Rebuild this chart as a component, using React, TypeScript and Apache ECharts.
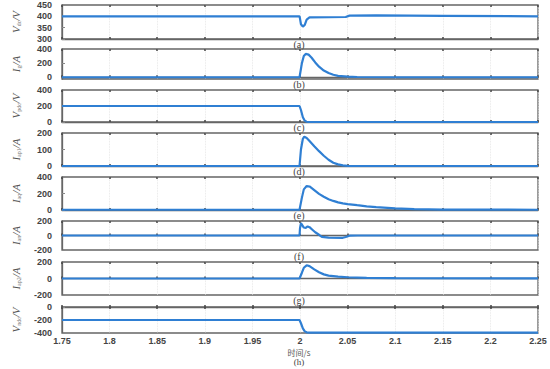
import React, { useEffect, useRef } from "react";
import * as echarts from "echarts";

const xTicks = [1.75, 1.8, 1.85, 1.9, 1.95, 2, 2.05, 2.1, 2.15, 2.2, 2.25];
const panelLetters = ["(a)", "(b)", "(c)", "(d)", "(e)", "(f)", "(g)"];
const xTitle = "时间/s";
const lastLetter = "(h)";

const vdc: [number, number][] = [
  [1.75, 400], [1.9995, 400], [2.0, 390], [2.001, 365], [2.003, 355], [2.005, 362],
  [2.007, 385], [2.01, 395], [2.03, 396], [2.048, 397], [2.052, 403], [2.08, 404],
  [2.15, 402], [2.25, 400],
];
const ig: [number, number][] = [
  [1.75, 0], [1.9995, 0], [2.002, 200], [2.004, 300], [2.006, 330], [2.009, 320],
  [2.012, 280], [2.016, 210], [2.02, 150], [2.025, 95], [2.03, 60], [2.035, 35],
  [2.04, 20], [2.05, 8], [2.06, 3], [2.1, 0], [2.25, 0],
];
const vpdc: [number, number][] = [
  [1.75, 200], [1.9995, 200], [2.001, 150], [2.003, 60], [2.005, 15], [2.007, 3],
  [2.01, 0], [2.25, 0],
];
const iap1: [number, number][] = [
  [1.75, 0], [1.9995, 0], [2.001, 100], [2.003, 165], [2.0045, 178], [2.007, 170],
  [2.01, 152], [2.015, 120], [2.02, 90], [2.025, 62], [2.03, 38], [2.035, 20],
  [2.04, 10], [2.045, 4], [2.05, 1], [2.1, 0], [2.25, 0],
];
const iaq: [number, number][] = [
  [1.75, 3], [1.9995, 3], [2.002, 150], [2.004, 250], [2.007, 290], [2.01, 285],
  [2.015, 240], [2.02, 195], [2.025, 160], [2.03, 130], [2.035, 110], [2.04, 92],
  [2.045, 80], [2.05, 72], [2.06, 58], [2.07, 45], [2.08, 35], [2.1, 20],
  [2.12, 10], [2.15, 5], [2.25, 3],
];
const ian: [number, number][] = [
  [1.75, 0], [1.9995, 0], [2.0, 100], [2.001, 170], [2.002, 150], [2.004, 110],
  [2.006, 105], [2.008, 125], [2.01, 115], [2.013, 80], [2.016, 45], [2.02, 10],
  [2.023, -20], [2.03, -30], [2.045, -32], [2.048, -20], [2.052, -3], [2.06, 0],
  [2.25, 0],
];
const iap2: [number, number][] = [
  [1.75, 0], [1.9995, 0], [2.002, 70], [2.004, 130], [2.007, 160], [2.01, 150],
  [2.015, 110], [2.02, 75], [2.025, 50], [2.03, 35], [2.04, 22], [2.05, 15],
  [2.07, 8], [2.1, 4], [2.25, 2],
];
const vndc: [number, number][] = [
  [1.75, -200], [1.9995, -200], [2.001, -250], [2.003, -330], [2.005, -375],
  [2.007, -390], [2.01, -395], [2.25, -395],
];

const seriesData = [vdc, ig, vpdc, iap1, iaq, ian, iap2, vndc];
const yMins = [300, -25, 0, 0, 0, -200, -200, -400];
const yMaxs = [450, 400, 400, 200, 400, 200, 200, 0];
const yLabels = [
  [300, 350, 400, 450],
  [0, 200, 400],
  [0, 200, 400],
  [0, 100, 200],
  [0, 200, 400],
  [-200, 0, 200],
  [-200, 0, 200],
  [-400, -200, 0],
];
const yNames = [
  ["V", "dc", "V"],
  ["I", "g", "A"],
  ["V", "pdc", "V"],
  ["I", "ap1", "A"],
  ["I", "aq", "A"],
  ["I", "an", "A"],
  ["I", "ap2", "A"],
  ["V", "ndc", "V"],
];

const tops = [5, 49, 90, 133, 177, 221, 262, 307];
const heights = [34, 30, 32, 33, 33, 29, 33, 26];
const LEFT = 62;
const RIGHT = 12;

export default function App() {
  const ref = useRef<HTMLDivElement>(null);
  useEffect(() => {
    if (!ref.current) return;
    const chart = echarts.init(ref.current, undefined, { renderer: "svg" });
    const n = seriesData.length;
    const grid: any[] = [];
    const xAxis: any[] = [];
    const yAxis: any[] = [];
    const series: any[] = [];
    const labelFont = {
      color: "#444",
      fontSize: 9,
      fontWeight: "bold",
      fontFamily: "Liberation Sans, Arial, sans-serif",
    };
    for (let i = 0; i < n; i++) {
      grid.push({
        left: LEFT,
        right: RIGHT,
        top: tops[i],
        height: heights[i],
        show: true,
        borderColor: "#666",
        borderWidth: 1.3,
        backgroundColor: "#fff",
      });
      const isLast = i === n - 1;
      xAxis.push({
        type: "value",
        gridIndex: i,
        min: 1.75,
        max: 2.25,
        interval: 0.05,
        position: "bottom",
        axisLine: { show: true, lineStyle: { color: "#666", width: 1.3 } },
        axisTick: { show: true, inside: true, length: 2, lineStyle: { color: "#444", width: 1.5 } },
        splitLine: { show: true, lineStyle: { color: "#e2e2e2", width: 0.8, type: "dotted" } },
        axisLabel: {
          show: isLast,
          ...labelFont,
          margin: 3,
          formatter: (v: number) => String(+v.toFixed(2)),
        },
      });
      xAxis.push({
        type: "value",
        gridIndex: i,
        min: 1.75,
        max: 2.25,
        interval: 0.05,
        position: "top",
        axisLine: { show: false },
        axisTick: { show: true, inside: true, length: 2, lineStyle: { color: "#444", width: 1.5 } },
        splitLine: { show: false },
        axisLabel: { show: false },
      });
      const nm = yNames[i];
      yAxis.push({
        type: "value",
        gridIndex: i,
        min: yMins[i],
        max: yMaxs[i],
        axisLine: { show: true, lineStyle: { color: "#666", width: 1.3 } },
        axisTick: {
          show: true,
          inside: true,
          length: 3,
          customValues: yLabels[i],
          lineStyle: { color: "#888" },
        },
        splitLine: { show: false },
        axisLabel: { ...labelFont, margin: 10, customValues: yLabels[i] },
        name: `{m|${nm[0]}}{s|${nm[1]}}{m|/${nm[2]}}`,
        nameLocation: "middle",
        nameGap: 40,
        nameRotate: 90,
        nameTextStyle: {
          rich: {
            m: { fontFamily: "Liberation Serif, serif", fontStyle: "italic", fontSize: 11, color: "#555" },
            s: { fontFamily: "Liberation Serif, serif", fontSize: 6, color: "#777", verticalAlign: "bottom", padding: [6, 0, 0, 0] },
          },
        },
      });
      series.push({
        type: "line",
        xAxisIndex: i * 2,
        yAxisIndex: i,
        data: seriesData[i],
        showSymbol: false,
        lineStyle: { color: "#2f7fd3", width: 2.2 },
        z: 3,
      });
    }
    const graphic: any[] = [];
    const letterY = [44, 84, 127, 171, 215, 256, 300];
    const xCenter = 299;
    panelLetters.forEach((t, k) => {
      graphic.push({
        type: "text",
        x: xCenter,
        y: letterY[k],
        style: {
          text: t,
          fontFamily: "Liberation Serif, serif",
          fontSize: 10,
          fill: "#444",
          align: "center",
          verticalAlign: "middle",
        },
      });
    });
    graphic.push({
      type: "text",
      x: xCenter,
      y: 352,
      style: {
        text: xTitle,
        fontFamily: "Noto Sans CJK SC, serif",
        fontSize: 8,
        fill: "#555",
        align: "center",
        verticalAlign: "middle",
      },
    });
    graphic.push({
      type: "text",
      x: xCenter,
      y: 362,
      style: {
        text: lastLetter,
        fontFamily: "Liberation Serif, serif",
        fontSize: 9,
        fill: "#444",
        align: "center",
        verticalAlign: "middle",
      },
    });

    chart.setOption({
      animation: false,
      backgroundColor: "#fff",
      grid,
      xAxis,
      yAxis,
      series,
      graphic,
    });
    return () => chart.dispose();
  }, []);
  return (
    <div
      ref={ref}
      style={{ position: "fixed", left: 0, top: 0, width: 550, height: 369 }}
    />
  );
}
